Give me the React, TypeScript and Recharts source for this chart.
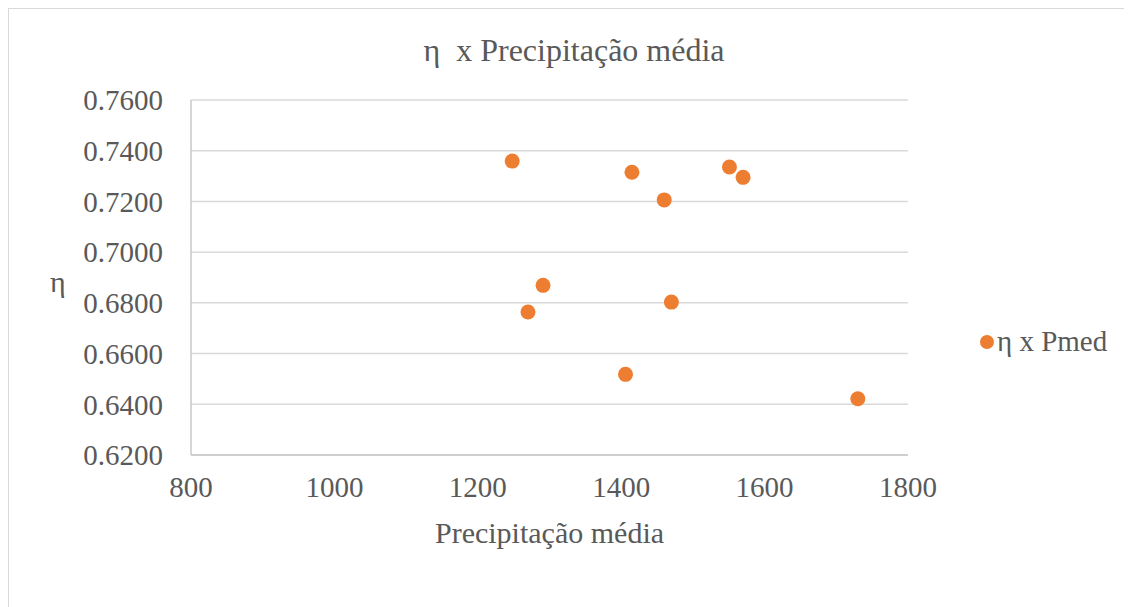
import React from 'react';
import { ScatterChart, Scatter, XAxis, YAxis, CartesianGrid } from 'recharts';

// mean precipitation (x) vs efficiency η (y)
const precip = [1248, 1415, 1551, 1570, 1460, 1291, 1270, 1470, 1406, 1730];
const eta = [0.7359, 0.7315, 0.7336, 0.7295, 0.7206, 0.6869, 0.6764, 0.6803, 0.6518, 0.6422];

const xTicks = [800, 1000, 1200, 1400, 1600, 1800];
const yTicks = [0.62, 0.64, 0.66, 0.68, 0.7, 0.72, 0.74, 0.76];

const points = precip.map((p, i) => ({ x: p, y: eta[i] }));

const font = 'Liberation Serif, Times New Roman, serif';
const grey = '#595959';
const orange = '#ED7D31';

const Dot = (props: any) => <circle cx={props.cx} cy={props.cy} r={7.5} fill={orange} />;

const App: React.FC = () => {
  return (
    <div
      style={{
        position: 'relative',
        width: 1123,
        height: 602,
        border: '1px solid #d9d9d9',
        boxSizing: 'border-box',
        fontFamily: font,
        background: '#fff',
      }}
    >
      <style>{'body{overflow:hidden}'}</style>
      <div
        style={{
          position: 'absolute',
          top: 23,
          left: 0,
          width: 1130,
          textAlign: 'center',
          fontSize: 32,
          color: grey,
          whiteSpace: 'pre',
        }}
      >
        {'η  x Precipitação média'}
      </div>
      <div style={{ position: 'absolute', left: 41, top: 256, fontSize: 30, color: grey }}>η</div>
      <div
        style={{
          position: 'absolute',
          left: 971,
          top: 316,
          fontSize: 29,
          color: grey,
          display: 'flex',
          alignItems: 'center',
        }}
      >
        <span
          style={{
            display: 'inline-block',
            width: 14,
            height: 14,
            borderRadius: 7,
            background: orange,
            marginRight: 3,
          }}
        />
        η x Pmed
      </div>
      <ScatterChart
        width={1121}
        height={597}
        margin={{ top: 91, right: 222, bottom: 111, left: 82 }}
      >
        <CartesianGrid horizontal vertical={false} stroke="#d9d9d9" strokeWidth={1.5} />
        <XAxis
          type="number"
          dataKey="x"
          domain={[800, 1800]}
          ticks={xTicks}
          tickLine={false}
          axisLine={{ stroke: '#c8c8c8', strokeWidth: 1.5 }}
          tick={{ fill: grey, fontSize: 29, fontFamily: font }}
          tickMargin={15}
          height={40}
          label={{
            value: 'Precipitação média',
            position: 'bottom',
            offset: 27,
            fill: grey,
            fontSize: 30,
            fontFamily: font,
          }}
        />
        <YAxis
          type="number"
          dataKey="y"
          domain={[0.62, 0.76]}
          ticks={yTicks}
          tickFormatter={(v: number) => v.toFixed(4)}
          tickLine={false}
          axisLine={{ stroke: '#c8c8c8', strokeWidth: 1.5 }}
          tick={{ fill: grey, fontSize: 29, fontFamily: font }}
          tickMargin={22}
          width={100}
        />
        <Scatter
          name="η x Pmed"
          data={points}
          fill={orange}
          shape={Dot}
          isAnimationActive={false}
        />
      </ScatterChart>
    </div>
  );
};

export default App;
